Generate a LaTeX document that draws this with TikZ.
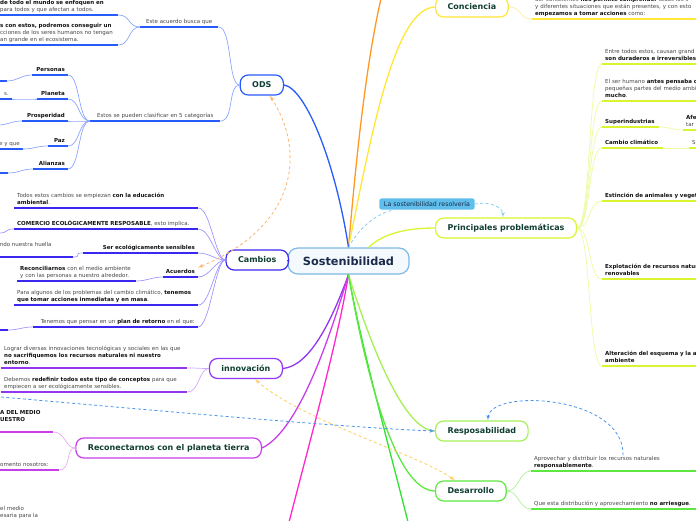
\documentclass[tikz,border=0pt]{standalone}
\usepackage{fontspec}
\setmainfont{DejaVu Sans}
\usetikzlibrary{arrows}
\definecolor{sostBlue}{RGB}{125,185,228}
\definecolor{sostFill}{RGB}{244,249,253}
\definecolor{sostText}{RGB}{27,42,74}
\definecolor{odsBlue}{RGB}{40,92,250}
\definecolor{odsLight}{RGB}{140,165,255}
\definecolor{camBlue}{RGB}{58,40,242}
\definecolor{camLight}{RGB}{160,150,255}
\definecolor{innPurple}{RGB}{145,55,242}
\definecolor{innLight}{RGB}{205,170,255}
\definecolor{recPurple}{RGB}{200,62,232}
\definecolor{recLight}{RGB}{232,170,245}
\definecolor{magLine}{RGB}{255,40,205}
\definecolor{grnLine}{RGB}{48,226,48}
\definecolor{desGreen}{RGB}{92,232,64}
\definecolor{desLight}{RGB}{175,242,155}
\definecolor{resGreen}{RGB}{165,240,85}
\definecolor{priYellow}{RGB}{218,245,48}
\definecolor{priLight}{RGB}{236,250,160}
\definecolor{conYellow}{RGB}{255,230,55}
\definecolor{conLight}{RGB}{255,240,160}
\definecolor{oraLine}{RGB}{255,152,35}
\definecolor{nodeText}{RGB}{16,62,50}
\definecolor{smallText}{RGB}{70,70,70}
\definecolor{boldText}{RGB}{18,18,18}
\definecolor{relBlue}{RGB}{75,150,232}
\definecolor{relSky}{RGB}{135,205,240}
\definecolor{relOrange}{RGB}{255,178,105}
\definecolor{relYellow}{RGB}{255,205,95}
\definecolor{labelBlue}{RGB}{95,190,235}
\newcommand{\bt}[1]{{\bfseries\color{boldText}#1}}

\begin{document}
\begin{tikzpicture}[x=1pt, y=-1pt, font=\fontsize{5.5}{7}\selectfont]
    \tikzstyle{topic} = [draw, rectangle, rounded corners=8pt, fill=white, line width=1.2pt, text=nodeText, font=\fontsize{8}{9.6}\selectfont\bfseries, inner xsep=12pt, inner ysep=0pt, minimum height=20pt]
    \tikzstyle{sub} = [inner xsep=3pt, inner ysep=1pt, text=smallText, align=left, execute at end node=\strut]
    \tikzstyle{uline} = [line width=1.6pt]
    \tikzstyle{link} = [line width=0.7pt]
    \tikzstyle{branch} = [line width=1.3pt]
    \tikzstyle{rel} = [dash pattern=on 3pt off 2.5pt, line width=0.8pt]

    \useasboundingbox (0,0) rectangle (696,520);
    \clip (0,0) rectangle (696,520);

    % main topics
    \node [topic, draw=sostBlue, fill=sostFill, text=sostText, font=\fontsize{11.3}{13}\selectfont\bfseries, inner xsep=15pt, minimum height=26pt, rounded corners=10pt] (sost) at (348.5,261) {Sostenibilidad};
    \node [topic, draw=odsBlue, anchor=east] (ods) at (284,85) {ODS};
    \node [topic, draw=camBlue, anchor=east] (cambios) at (289,260) {Cambios};
    \node [topic, draw=innPurple, anchor=east] (innov) at (283,368.5) {innovación};
    \node [topic, draw=recPurple, anchor=east] (recon) at (262,448) {Reconectarnos con el planeta tierra};
    \node [topic, draw=conYellow, anchor=west] (conc) at (435,7) {Conciencia};
    \node [topic, draw=priYellow, anchor=west] (princ) at (435,228) {Principales problemáticas};
    \node [topic, draw=resGreen, anchor=west] (resp) at (435,431) {Resposabilidad};
    \node [topic, draw=desGreen, anchor=west] (desa) at (435,491) {Desarrollo};
    \node [fill=labelBlue, rounded corners=2pt, inner xsep=4.5pt, inner ysep=3pt, text=sostText, font=\fontsize{6.3}{7.5}\selectfont] (resolver) at (427,204) {La sostenibilidad resolvería};

    % ODS
    \node [sub, anchor=south west, text width=72pt, align=center] (acuerdo) at (140,27) {Este acuerdo busca que};
    \node [sub, anchor=south west, text width=124pt, align=center] (clasif) at (90,121) {Estos se pueden clasificar en 5 categorías};
    \node [sub, anchor=south west, text width=115pt] (enfoque) at (-3,15) {\bt{de todo el mundo se enfoquen en}\\para todos y que afectan a todos.};
    \node [sub, anchor=south west, text width=115pt] (conseguir) at (-3,45) {\bt{s con estos, podremos conseguir un}\\cciones de los seres humanos no tengan\\an grande en el ecosistema.};
    \node [sub, anchor=south east, text width=30pt, align=right] (personas) at (68,75) {\bt{Personas}};
    \node [sub, anchor=south east, text width=25pt, align=right] (planeta) at (68,99) {\bt{Planeta}};
    \node [sub, anchor=south east, text width=40pt, align=right] (prosperidad) at (68,121) {\bt{Prosperidad}};
    \node [sub, anchor=south east, text width=14pt, align=right] (paz) at (68,146) {\bt{Paz}};
    \node [sub, anchor=south east, text width=29pt, align=right] (alianzas) at (68,169) {\bt{Alianzas}};
    \node [sub, anchor=south east, text width=20pt] (personas-hijo) at (7,81) {};
    \node [sub, anchor=south east, text width=30pt, align=right] (planeta-hijo) at (12,99) {s.};
    \node [sub, anchor=south east, text width=20pt] (prosperidad-hijo) at (-2,125) {};
    \node [sub, anchor=south east, text width=40pt, align=right] (paz-hijo) at (23,149) {e y que};
    \node [sub, anchor=south east, text width=20pt] (alianzas-hijo) at (8,173) {};

    % Cambios
    \node [sub, anchor=south west, text width=178pt] (educacion) at (14,208) {Todos estos cambios se empiezan \bt{con la educación}\\\bt{ambiental}.};
    \node [sub, anchor=south west, text width=178pt] (comercio) at (14,229) {\bt{COMERCIO ECOLÓGICAMENTE RESPOSABLE}, esto implica.};
    \node [sub, anchor=south east, text width=109pt, align=right] (sensibles) at (198,253) {\bt{Ser ecológicamente sensibles}};
    \node [sub, anchor=south east, text width=29pt, align=right] (acuerdos) at (198,277) {\bt{Acuerdos}};
    \node [sub, anchor=south west, text width=178pt] (masa) at (14,305) {Para algunos de los problemas del cambio climático, \bt{tenemos}\\\bt{que tomar acciones inmediatas y en masa}.};
    \node [sub, anchor=south east, text width=159pt, align=right] (retorno) at (198,327) {Tenemos que pensar en un \bt{plan de retorno} en el que:};
    \node [sub, anchor=south east, text width=20pt] (comercio-hijo) at (-1,233) {};
    \node [sub, anchor=south east, text width=70pt] (sensibles-hijo) at (73,257) {ndo nuestra huella\\};
    \node [sub, anchor=south west, text width=113pt] (acuerdos-hijo) at (17,281) {\bt{Reconciliarnos} con el medio ambiente\\y con las personas a nuestro alrededor.};
    \node [sub, anchor=south east, text width=20pt] (retorno-hijo) at (8,330) {};

    % innovacion
    \node [sub, anchor=south west, text width=180pt] (sacrificar) at (1,368) {Lograr diversas innovaciones tecnológicas y sociales en las que\\\bt{no sacrifiquemos los recursos naturales ni nuestro}\\\bt{entorno}.};
    \node [sub, anchor=south west, text width=180pt] (redefinir) at (1,392) {Debemos \bt{redefinir todos este tipo de conceptos} para que\\empiecen a ser ecológicamente sensibles.};

    % Reconectarnos
    \node [sub, anchor=south west, text width=50pt] (medio) at (-3,432) {\bt{A DEL MEDIO}\\\bt{UESTRO}\\};
    \node [sub, anchor=south west, text width=56pt] (momento) at (-3,470) {omento nosotros:};
    \node [sub, anchor=north west, text width=50pt] (necesaria) at (-3,505) {el medio\\esaria para la};

    % Conciencia, Desarrollo
    \node [sub, anchor=south west, text width=200pt] (comprender) at (532,19) {Ser conscientes \bt{nos permite comprender} todos los s\\y diferentes situaciones que están presentes, y con esto\\\bt{empezamos a tomar acciones} como:};
    \node [sub, anchor=south west, text width=200pt] (aprovechar) at (531,471) {Aprovechar y distribuir los recursos naturales\\\bt{responsablemente}.};
    \node [sub, anchor=south west, text width=200pt] (arriesgar) at (531,509) {Que esta distribución y aprovechamiento \bt{no arriesgue}.};

    % Principales problematicas
    \node [sub, anchor=south west, text width=200pt] (duraderos) at (602,64) {Entre todos estos, causan grand\\\bt{son duraderos e irreversibles}};
    \node [sub, anchor=south west, text width=200pt] (pensaba) at (602,101) {El ser humano \bt{antes pensaba c}\\pequeñas partes del medio ambi\\\bt{mucho}.};
    \node [sub, anchor=south west, text width=51pt] (industrias) at (602,127) {\bt{Superindustrias}};
    \node [sub, anchor=south west, text width=55pt] (clima) at (602,148) {\bt{Cambio climático}};
    \node [sub, anchor=south west, text width=200pt] (industrias-hijo) at (683,130) {\bt{Afe}\\tar};
    \node [sub, anchor=south west, text width=200pt] (clima-hijo) at (689,148) {S};
    \node [sub, anchor=south west, text width=200pt] (extincion) at (602,201) {\bt{Estinción de animales y vegeta}};
    \node [sub, anchor=south west, text width=200pt] (explotacion) at (602,279) {\bt{Explotación de recursos natur}\\\bt{renovables}};
    \node [sub, anchor=south west, text width=200pt] (alteracion) at (602,366) {\bt{Alteración del esquema y la a}\\\bt{ambiente}};

    % main branches
    \coordinate (oraEnd) at (383,-10);
    \coordinate (magEnd) at (287,530);
    \coordinate (grnEnd) at (410,530);
    \draw [oraLine, branch] (sost.north) .. controls (356,160) and (366,60) .. (oraEnd);
    \draw [conYellow, branch] (sost.north) .. controls (372,130) and (395,8) .. (conc.west);
    \draw [odsBlue, branch] (ods.east) .. controls (305,88) and (335,160) .. (sost.north);
    \draw [priYellow, branch] ([xshift=20pt]sost.north) .. controls (385,232) and (410,228) .. (princ.west);
    \draw [camBlue, branch] (cambios.east) -- (sost.west);
    \draw [innPurple, branch] (innov.east) .. controls (310,366) and (332,320) .. (sost.south);
    \draw [recPurple, branch] (recon.east) .. controls (300,430) and (332,330) .. (sost.south);
    \draw [magLine, branch] (sost.south) .. controls (338,340) and (310,440) .. (magEnd);
    \draw [grnLine, branch] (sost.south) .. controls (362,350) and (390,450) .. (grnEnd);
    \draw [resGreen, branch] (sost.south) .. controls (372,350) and (405,431) .. (resp.west);
    \draw [desGreen, branch] (sost.south) .. controls (365,370) and (395,491) .. (desa.west);

    % underlines
    \foreach \n in {acuerdo, clasif, enfoque, conseguir, personas, planeta, prosperidad, paz, alianzas, personas-hijo, planeta-hijo, prosperidad-hijo, paz-hijo, alianzas-hijo}
        \draw [odsBlue, uline] (\n.south west) -- (\n.south east);
    \foreach \n in {educacion, comercio, sensibles, acuerdos, masa, retorno, comercio-hijo, sensibles-hijo, acuerdos-hijo, retorno-hijo}
        \draw [camBlue, uline] (\n.south west) -- (\n.south east);
    \foreach \n in {sacrificar, redefinir}
        \draw [innPurple, uline] (\n.south west) -- (\n.south east);
    \foreach \n in {medio, momento}
        \draw [recPurple, uline] (\n.south west) -- (\n.south east);
    \foreach \n in {aprovechar, arriesgar}
        \draw [desGreen, uline] (\n.south west) -- (\n.south east);
    \draw [conYellow, uline] (comprender.south west) -- (comprender.south east);
    \foreach \n in {duraderos, pensaba, industrias, clima, industrias-hijo, clima-hijo, extincion, explotacion, alteracion}
        \draw [priYellow, uline] (\n.south west) -- (\n.south east);

    % links
    \draw [odsLight, link] (acuerdo.south east) .. controls +(14,0) and +(-12,0) .. (ods.west);
    \draw [odsLight, link] (clasif.south east) .. controls +(14,0) and +(-12,0) .. (ods.west);
    \draw [odsLight, link] (enfoque.south east) .. controls +(12,0) and +(-12,0) .. (acuerdo.south west);
    \draw [odsLight, link] (conseguir.south east) .. controls +(12,0) and +(-12,0) .. (acuerdo.south west);
    \foreach \c in {personas, planeta, prosperidad, paz, alianzas} {
        \draw [odsLight, link] (\c.south east) .. controls +(12,0) and +(-12,0) .. (clasif.south west);
        \draw [odsLight, link] (\c-hijo.south east) .. controls +(10,0) and +(-10,0) .. (\c.south west);
    }
    \foreach \c in {educacion, comercio, sensibles, acuerdos, masa, retorno}
        \draw [camLight, link] (\c.south east) .. controls +(12,0) and +(-10,0) .. (cambios.west);
    \foreach \c in {comercio, sensibles, acuerdos, retorno}
        \draw [camLight, link] (\c-hijo.south east) .. controls +(10,0) and +(-10,0) .. (\c.south west);
    \draw [innLight, link] (sacrificar.south east) .. controls +(12,0) and +(-10,0) .. (innov.west);
    \draw [innLight, link] (redefinir.south east) .. controls +(12,0) and +(-10,0) .. (innov.west);
    \draw [recLight, link] (medio.south east) .. controls +(12,0) and +(-10,0) .. (recon.west);
    \draw [recLight, link] (momento.south east) .. controls +(12,0) and +(-10,0) .. (recon.west);
    \draw [desLight, link] (desa.east) .. controls +(12,0) and +(-12,0) .. (aprovechar.south west);
    \draw [desLight, link] (desa.east) .. controls +(12,0) and +(-12,0) .. (arriesgar.south west);
    \draw [conLight, link] (conc.east) .. controls +(14,0) and +(-14,0) .. (comprender.south west);
    \foreach \c in {duraderos, pensaba, industrias, clima, extincion, explotacion, alteracion}
        \draw [priLight, link] (princ.east) .. controls +(14,0) and +(-14,0) .. (\c.south west);
    \draw [priLight, link] (industrias.south east) .. controls +(12,0) and +(-12,0) .. (industrias-hijo.south west);
    \draw [priLight, link] (clima.south east) -- (clima-hijo.south west);

    % relations
    \coordinate (blueStart) at (-10,396);
    \draw [rel, relSky] (sost.north) .. controls (360,226) and (378,213) .. ([xshift=15pt]resolver.south west);
    \draw [rel, relSky, -latex'] (resolver.east) .. controls (492,201) and (503,208) .. ([xshift=-3pt]princ.north);
    \draw [rel, relOrange, latex'-latex'] ([xshift=8pt]ods.south) .. controls (305,150) and (300,225) .. (acuerdos.north east);
    \draw [rel, relYellow, latex'-latex'] ([xshift=9pt]innov.south) .. controls (300,420) and (420,455) .. ([xshift=-16pt]desa.north);
    \draw [rel, relBlue, -latex'] (blueStart) .. controls (150,410) and (350,428) .. (resp.west);
    \draw [rel, relBlue, -latex'] ([xshift=92pt]aprovechar.north west) .. controls (625,395) and (490,388) .. ([xshift=6pt]resp.north);
\end{tikzpicture}
\end{document}
